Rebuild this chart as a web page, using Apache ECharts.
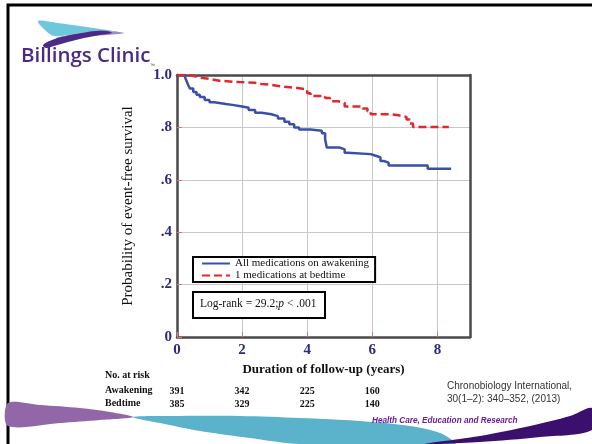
<!DOCTYPE html>
<html><head><meta charset="utf-8">
<script src="https://cdn.jsdelivr.net/npm/echarts@6/dist/echarts.min.js"></script>
<style>html,body{margin:0;padding:0;background:#fff}#c{width:592px;height:444px}</style>
</head><body><div id="c"></div>
<script>
// ---- data ----
const seriesNames = ['All medications on awakening', '1 medications at bedtime'];
const awakeningData = [[0,1.0],[0.25,0.99],[0.3,0.975],[0.35,0.96],[0.4,0.948],[0.5,0.935],[0.6,0.925],[0.7,0.916],[0.85,0.905],[1.0,0.896],[1.15,0.889],[1.5,0.886],[1.7,0.88],[2.0,0.875],[2.2,0.866],[2.4,0.856],[2.6,0.85],[2.9,0.843],[3.1,0.834],[3.3,0.822],[3.45,0.812],[3.6,0.8],[3.75,0.792],[4.1,0.787],[4.45,0.778],[4.55,0.755],[4.6,0.723],[5.0,0.716],[5.15,0.703],[5.25,0.698],[5.95,0.692],[6.1,0.685],[6.25,0.672],[6.35,0.665],[6.5,0.655],[7.7,0.642],[8.42,0.642]];
const bedtimeData = [[0,1.0],[0.3,0.997],[0.5,0.99],[0.7,0.985],[1.0,0.978],[1.3,0.973],[1.9,0.97],[2.4,0.966],[2.6,0.962],[2.9,0.955],[3.3,0.95],[3.7,0.945],[4.0,0.93],[4.1,0.92],[4.55,0.912],[4.7,0.9],[4.95,0.893],[5.15,0.88],[5.7,0.872],[5.85,0.862],[5.95,0.85],[6.55,0.846],[6.8,0.84],[7.05,0.83],[7.15,0.815],[7.25,0.802],[8.35,0.802]];
const yTickLabels = {0:'0', 0.2:'.2', 0.4:'.4', 0.6:'.6', 0.8:'.8', 1:'1.0'};
const riskTimes = [0, 2, 4, 6];
const riskAwakening = [391, 342, 225, 160];
const riskBedtime = [385, 329, 225, 140];
const riskRowLabels = ['No. at risk', 'Awakening', 'Bedtime'];
const logRankText = ['Log-rank = 29.2;', 'p', ' < .001'];
const citation = ['Chronobiology International,', '30(1\u20132): 340\u2013352, (2013)'];
const footerText = 'Health Care, Education and Research';
const logoText = 'Billings Clinic';

const SERIF = '"Liberation Serif","DejaVu Serif",serif';
const SANS = '"Liberation Sans",Arial,sans-serif';
const NAVY = '#2D2B7F';
const FRAME = '#4A4A4A';

const chart = echarts.init(document.getElementById('c'), null, {renderer:'canvas'});

const decor = [
  // slide border (top & left)
  {type:'rect', shape:{x:8, y:5, width:600, height:460}, style:{fill:'none', stroke:'#000', lineWidth:3}, z:0},
  // logo swoosh
  {type:'polygon', shape:{smooth:0.35, points:[[38,21],[58,23],[80,26],[100,29],[112,31],[100,33],[84,34],[68,35],[54,36],[46,31]]}, style:{fill:'#6FC7DB'}},
  {type:'polygon', shape:{smooth:0.35, points:[[56,38],[76,34],[96,31],[110,31],[124,33],[108,35],[90,36],[72,39],[62,41]]}, style:{fill:'#9A8CCB'}},
  {type:'polygon', shape:{smooth:0.35, points:[[43,45],[52,40],[66,36],[82,33],[96,31],[106,31],[112,33],[100,35],[84,38],[68,42],[54,46],[46,48]]}, style:{fill:'#4A2A86'}},
  {type:'text', left:21, top:46, style:{text:logoText, font:'600 20.5px "Open Sans",sans-serif', fill:'#4B2A83'}},
  {type:'text', left:150, top:63, style:{text:'\u2122', font:'5px sans-serif', fill:'#4B2A83'}},
  // bottom waves
  {type:'polygon', shape:{smooth:0.3, points:[[8,403],[40,405],[80,408],[110,412],[133,417],[100,420],[60,423],[8,426]]}, style:{fill:'#9267A8'}},
  {type:'polygon', shape:{smooth:0.3, points:[[133,417],[180,416],[240,416],[300,418],[360,421],[410,426],[440,433],[455,444],[300,444],[250,438],[200,431],[160,423]]}, style:{fill:'#5AB2CB'}},
  {type:'polygon', shape:{smooth:0.3, points:[[425,444],[480,436],[530,426],[570,416],[592,408],[592,430],[540,437],[480,442]]}, style:{fill:'#3B0F6E'}},
  // log-rank box
  {type:'rect', shape:{x:193, y:292, width:132, height:26}, style:{fill:'#fff', stroke:'#000', lineWidth:2}, z:10},
  {type:'text', left:200, top:298, z:11, style:{
    text:'{a|'+logRankText[0]+'}{i|'+logRankText[1]+'}{a|'+logRankText[2]+'}',
    rich:{a:{fontFamily:SERIF, fontSize:11.5, fill:'#111'}, i:{fontFamily:SERIF, fontSize:11.5, fontStyle:'italic', fill:'#111'}}}},
  // risk table row labels
  {type:'text', left:105, top:370, style:{text:riskRowLabels[0], font:'bold 10px '+SERIF, fill:'#111'}},
  {type:'text', left:105, top:385, style:{text:riskRowLabels[1], font:'bold 10px '+SERIF, fill:'#111'}},
  {type:'text', left:105, top:398, style:{text:riskRowLabels[2], font:'bold 10px '+SERIF, fill:'#111'}},
  // citation
  {type:'text', left:447, top:381, style:{text:citation[0], font:'10px '+SANS, fill:'#333'}},
  {type:'text', left:447, top:394, style:{text:citation[1], font:'10px '+SANS, fill:'#333'}},
  {type:'text', left:372, top:417, style:{text:footerText, font:'italic bold 8.2px '+SANS, fill:'#6A1D98'}}
];

const frameAxis = {show:true, onZero:false, lineStyle:{color:FRAME, width:2.5}};
chart.setOption({
  animation:false,
  backgroundColor:'#fff',
  grid:{left:177, top:75, width:293, height:262, containLabel:false},
  legend:{
    left:193, top:257, orient:'vertical', data:seriesNames,
    backgroundColor:'#fff', borderColor:'#000', borderWidth:2, borderRadius:0,
    padding:[1,6,1,8], itemGap:1, itemWidth:28, itemHeight:2,
    textStyle:{fontFamily:SERIF, fontSize:11, color:'#111'}, z:10
  },
  xAxis:[{
    type:'value', min:0, max:9, interval:2,
    name:'Duration of follow-up (years)', nameLocation:'middle', nameGap:24,
    nameTextStyle:{fontFamily:SERIF, fontWeight:'bold', fontSize:13, color:'#111'},
    axisLine:frameAxis, axisTick:{show:true, inside:true, length:5, lineStyle:{color:'#E07070'}},
    splitLine:{show:true, lineStyle:{color:'#C8C8C8', width:1}},
    axisLabel:{showMaxLabel:false, margin:6, fontFamily:SERIF, fontWeight:'bold', fontSize:15, color:NAVY}
  },{
    type:'value', min:0, max:9, position:'top', axisLine:frameAxis,
    axisTick:{show:false}, axisLabel:{show:false}, splitLine:{show:false}
  }],
  yAxis:[{
    type:'value', min:0, max:1, interval:0.2,
    name:'Probability of event-free survival', nameLocation:'middle', nameGap:41,
    nameTextStyle:{fontFamily:SERIF, fontSize:15, color:'#111'},
    axisLine:frameAxis, axisTick:{show:true, inside:true, length:5, lineStyle:{color:'#E07070'}},
    splitLine:{show:true, lineStyle:{color:'#C8C8C8', width:1}},
    axisLabel:{margin:5, fontFamily:SERIF, fontWeight:'bold', fontSize:15, color:NAVY,
      formatter:v=>yTickLabels[Math.round(v*10)/10] ?? ''}
  },{
    type:'value', min:0, max:1, position:'right', axisLine:frameAxis,
    axisTick:{show:false}, axisLabel:{show:false}, splitLine:{show:false}
  }],
  series:[
    {name:seriesNames[0], type:'line', step:'end', symbol:'none', data:awakeningData,
     lineStyle:{color:'#3A4FA8', width:2.5}, itemStyle:{color:'#3A4FA8'}, z:3},
    {name:seriesNames[1], type:'line', step:'end', symbol:'none', data:bedtimeData,
     lineStyle:{color:'#E5262B', width:2.5, type:[8,4]}, itemStyle:{color:'#E5262B'}, z:4}
  ],
  graphic:decor
});

// risk numbers positioned through the x axis scale
const riskEls = [];
riskTimes.forEach((t,i)=>{
  const px = chart.convertToPixel({xAxisIndex:0}, t);
  riskEls.push({type:'text', x:px, y:391, style:{text:String(riskAwakening[i]), font:'bold 10px '+SERIF, fill:'#111', align:'center', verticalAlign:'middle'}});
  riskEls.push({type:'text', x:px, y:404, style:{text:String(riskBedtime[i]), font:'bold 10px '+SERIF, fill:'#111', align:'center', verticalAlign:'middle'}});
});
chart.setOption({graphic:decor.concat(riskEls)});
</script></body></html>
